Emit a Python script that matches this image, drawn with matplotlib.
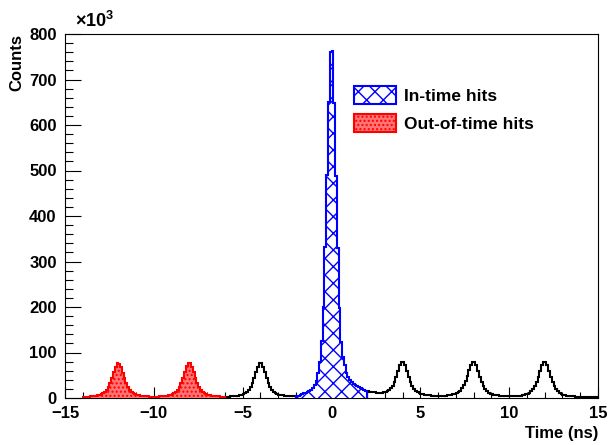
import numpy as np
import matplotlib
matplotlib.use("Agg")
import matplotlib.pyplot as plt
from matplotlib.patches import Patch

# --- Data (counts in units of 10^3, bins of 0.1 ns) ---
# out-of-time hits, -14 ns .. -6 ns
red_lo, red_hi = -14.0, -6.0
red_counts = [
    2.4, 2.6, 2.8, 3.1, 3.4, 3.8, 4.3, 4.9, 5.7, 6.8, 8.2, 10.1, 13.0, 17.4, 24.0, 33.0, 44.0, 56.5, 68.5, 76.0,
    75.5, 68.0, 56.0, 43.5, 32.5, 24.0, 17.5, 13.2, 10.3, 8.4, 7.0, 6.0, 5.2, 4.6, 4.1, 3.7, 3.4, 3.1, 2.9, 2.8,
    2.8, 2.9, 3.1, 3.4, 3.7, 4.1, 4.6, 5.2, 6.0, 7.0, 8.4, 10.4, 13.3, 17.8, 24.5, 33.5, 45.0, 57.5, 69.5, 77.0,
    76.5, 69.0, 57.0, 44.5, 33.5, 24.5, 17.7, 13.3, 10.4, 8.5, 7.1, 6.1, 5.3, 4.7, 4.2, 3.8, 3.5, 3.2, 3.0, 2.9,
]

# other hits, -6 ns .. -2 ns
black_left_lo, black_left_hi = -6.0, -2.0
black_left_counts = [
    2.9, 3.0, 3.2, 3.5, 3.8, 4.2, 4.7, 5.3, 6.1, 7.2, 8.6, 10.5, 13.4, 17.8, 24.5, 33.5, 44.5, 57.0, 68.5, 76.0,
    76.0, 68.5, 56.5, 44.0, 33.0, 24.5, 17.8, 13.4, 10.6, 8.7, 7.3, 6.3, 5.6, 5.0, 4.6, 4.3, 4.0, 3.8, 3.7, 3.6,
]

# in-time hits, -2 ns .. 2 ns
blue_lo, blue_hi = -2.0, 2.0
blue_counts = [
    4.0, 5.0, 6.5, 8.0, 10.0, 11.0, 13.0, 15.0, 18.0, 22.0, 28.0, 38.0, 55.0, 80.0, 125.0, 200.0, 332.0, 490.0, 650.0, 760.0,
    762.0, 648.0, 488.0, 330.0, 198.0, 124.0, 90.0, 72.0, 55.0, 46.0, 40.0, 35.0, 31.0, 28.0, 26.0, 24.0, 22.0, 20.0, 18.0, 16.0,
]

# other hits, 2 ns .. 15 ns
black_right_lo, black_right_hi = 2.0, 15.0
black_right_counts = [
    15.0, 14.0, 13.5, 13.0, 12.5, 12.0, 12.0, 12.0, 12.0, 12.5, 13.5, 15.0, 17.5, 21.0, 27.0, 36.0, 47.0, 60.0, 72.0, 80.0,
    80.0, 72.0, 60.0, 47.0, 36.0, 27.0, 20.0, 15.5, 12.5, 10.5, 9.0, 8.0, 7.2, 6.6, 6.1, 5.7, 5.3, 5.0, 4.8, 4.6,
    4.5, 4.6, 4.8, 5.0, 5.3, 5.7, 6.2, 6.9, 7.8, 9.0, 10.6, 12.8, 16.0, 21.0, 28.0, 37.0, 48.5, 61.0, 72.5, 80.0,
    79.5, 72.0, 60.0, 47.0, 35.5, 26.5, 19.5, 15.0, 11.8, 9.7, 8.2, 7.1, 6.2, 5.5, 5.0, 4.6, 4.2, 3.9, 3.7, 3.5,
    3.4, 3.5, 3.7, 3.9, 4.2, 4.6, 5.1, 5.8, 6.7, 7.9, 9.5, 11.7, 14.8, 19.6, 26.5, 35.5, 47.0, 60.0, 72.0, 80.0,
    80.0, 72.0, 60.0, 46.5, 35.0, 26.0, 19.0, 14.3, 11.0, 8.9, 7.4, 6.3, 5.4, 4.7, 4.2, 3.8, 3.4, 3.1, 2.8, 2.6,
    2.4, 2.3, 2.2, 2.1, 2.0, 1.9, 1.8, 1.8, 1.7, 1.7,
]

legend_labels = ["In-time hits", "Out-of-time hits"]


def edges(lo, hi, vals):
    return np.linspace(lo, hi, len(vals) + 1)


plt.rcParams["font.family"] = ["Liberation Sans", "DejaVu Sans"]
plt.rcParams["font.weight"] = "bold"
plt.rcParams["mathtext.fontset"] = "custom"
plt.rcParams["mathtext.rm"] = "Liberation Sans"
plt.rcParams["mathtext.bf"] = "Liberation Sans:bold"
plt.rcParams["hatch.linewidth"] = 1.0

fig = plt.figure(figsize=(6.11, 4.45), dpi=100)
ax = fig.add_axes([65 / 611, 47 / 445, 533 / 611, 364 / 445])

lw = 1.5
red_face = "#ff7474"
ax.stairs(black_left_counts, edges(black_left_lo, black_left_hi, black_left_counts),
          color="black", linewidth=lw, zorder=2)
ax.stairs(black_right_counts, edges(black_right_lo, black_right_hi, black_right_counts),
          color="black", linewidth=lw, zorder=2)
ax.stairs(blue_counts, edges(blue_lo, blue_hi, blue_counts), fill=True,
          facecolor="white", edgecolor="blue", hatch="xx", linewidth=lw, zorder=3)
ax.stairs(red_counts, edges(red_lo, red_hi, red_counts), fill=True,
          facecolor=red_face, edgecolor="red", hatch="....", linewidth=lw, zorder=3)

ax.set_xlim(-15, 15)
ax.set_ylim(0, 800)
ax.set_xticks(np.arange(-15, 16, 5))
ax.set_xticks(np.arange(-15, 16, 1), minor=True)
ax.set_yticks(np.arange(0, 801, 100))
ax.set_yticks(np.arange(0, 801, 20), minor=True)
ax.tick_params(which="both", direction="in", top=False, right=False, width=0.8, labelsize=12)
ax.tick_params(axis="x", which="major", length=8, pad=6)
ax.tick_params(axis="x", which="minor", length=4)
ax.tick_params(axis="y", which="major", length=11.5, pad=6)
ax.tick_params(axis="y", which="minor", length=5.5)
for lab in ax.get_xticklabels() + ax.get_yticklabels():
    lab.set_fontweight("bold")
for sp in ax.spines.values():
    sp.set_linewidth(0.8)

ax.set_xlabel("Time (ns)", loc="right", fontsize=12, fontweight="bold")
ax.xaxis.set_label_coords(1.0, -0.078)
ax.set_ylabel("Counts", loc="top", fontsize=12, fontweight="bold")
ax.yaxis.set_label_coords(-0.077, 1.0)

fig.text(75 / 611, 1 - 21 / 445, r"$\times\mathbf{10^{3}}$", fontsize=13, va="center", ha="left")

handles = [
    Patch(facecolor="white", edgecolor="blue", hatch="xx", linewidth=lw),
    Patch(facecolor=red_face, edgecolor="red", hatch="....", linewidth=lw),
]
ax.legend(handles, legend_labels, loc="upper left",
          bbox_to_anchor=(354 / 611, 1 - 86 / 445), bbox_transform=fig.transFigure,
          frameon=False, borderpad=0, borderaxespad=0, handlelength=2.4, handleheight=1.25,
          handletextpad=0.5, labelspacing=0.55, prop={"size": 12.5, "weight": "bold"})

fig.savefig("out.png", dpi=100)
